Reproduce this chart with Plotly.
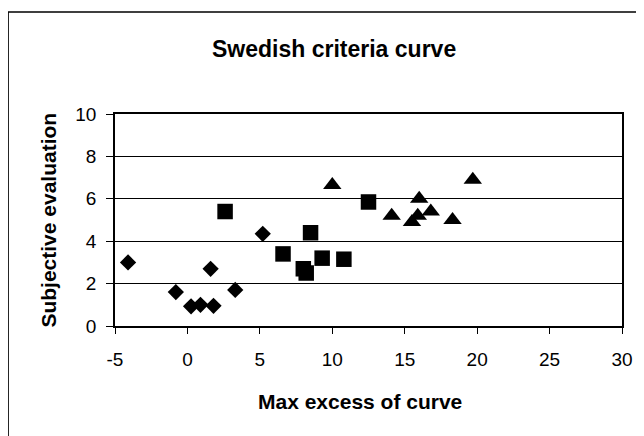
import plotly.graph_objects as go

# Series 1 (diamonds)
diamond_x = [-4.1, -0.8, 0.25, 0.9, 1.8, 1.6, 3.3, 5.2]
diamond_y = [3.0, 1.6, 0.93, 1.0, 0.95, 2.7, 1.7, 4.35]

# Series 2 (squares)
square_x = [2.6, 6.6, 8.0, 8.2, 8.5, 9.3, 10.8, 12.5]
square_y = [5.4, 3.4, 2.7, 2.5, 4.4, 3.2, 3.15, 5.85]

# Series 3 (triangles)
triangle_x = [10.0, 14.1, 15.5, 15.9, 16.0, 16.8, 18.3, 19.7]
triangle_y = [6.65, 5.2, 4.9, 5.2, 6.0, 5.4, 5.0, 6.9]

title_text = "Swedish criteria curve"
x_title = "Max excess of curve"
y_title = "Subjective evaluation"
x_tickvals = [-5, 0, 5, 10, 15, 20, 25, 30]
x_ticklabels = ["-5", "0", "5", "10", "15", "20", "25", "30"]
y_tickvals = [0, 2, 4, 6, 8, 10]
y_ticklabels = ["0", "2", "4", "6", "8", "10"]

FONT = "Arial, 'Liberation Sans', sans-serif"

OFF = 8  # page body offset
W, H = 644 - OFF, 436 - OFF
L, R, T, B = 115 - OFF, 21.5, 114 - OFF, 110
PW = W - L - R
PH = H - T - B

def px_x(p):
    return (p - OFF - L) / PW

def px_y(p):
    return (H - B - (p - OFF)) / PH

fig = go.Figure()
fig.add_trace(go.Scatter(x=diamond_x, y=diamond_y, mode="markers",
                         marker=dict(symbol="diamond", size=12.5, color="black"), name="A"))
fig.add_trace(go.Scatter(x=square_x, y=square_y, mode="markers",
                         marker=dict(symbol="square", size=15.5, color="black"), name="B"))
fig.add_trace(go.Scatter(x=triangle_x, y=triangle_y, mode="markers",
                         marker=dict(symbol="triangle-up", size=16, color="black"), name="C"))

fig.update_layout(
    width=W, height=H,
    margin=dict(l=L, r=R, t=T, b=B, pad=0),
    paper_bgcolor="white", plot_bgcolor="white",
    showlegend=False,
    font=dict(family=FONT, color="black", size=19),
    xaxis=dict(range=[-5, 30], tickvals=x_tickvals, ticktext=x_ticklabels,
               ticks="outside", ticklen=6, ticklabelstandoff=9,
               tickwidth=1, tickcolor="black", showline=True, linecolor="black",
               linewidth=1.5, mirror=True, showgrid=False, zeroline=False,
               tickfont=dict(size=19, family=FONT)),
    yaxis=dict(range=[0, 10], tickvals=y_tickvals, ticktext=y_ticklabels,
               ticks="outside", ticklen=7, ticklabelstandoff=6,
               tickwidth=1, tickcolor="black", showline=True, linecolor="black",
               linewidth=1.5, mirror=True, showgrid=True, gridcolor="black",
               gridwidth=1, zeroline=False, tickfont=dict(size=19, family=FONT)),
)

fig.add_annotation(text="<b>" + title_text + "</b>", xref="paper", yref="paper",
                   x=px_x(334), y=px_y(49.5), xanchor="center", yanchor="middle",
                   showarrow=False, font=dict(size=23, family=FONT, color="black"))
fig.add_annotation(text="<b>" + x_title + "</b>", xref="paper", yref="paper",
                   x=px_x(360), y=px_y(401.5), xanchor="center", yanchor="middle",
                   showarrow=False, font=dict(size=21, family=FONT, color="black"))
fig.add_annotation(text="<b>" + y_title + "</b>", xref="paper", yref="paper",
                   x=px_x(47.5), y=px_y(220), xanchor="center", yanchor="middle",
                   textangle=-90, showarrow=False,
                   font=dict(size=21, family=FONT, color="black"))

fig.add_shape(type="rect", xref="paper", yref="paper",
              x0=px_x(8), x1=px_x(700), y0=px_y(12), y1=px_y(500),
              line=dict(color="black", width=1.5), layer="below")

fig.write_html("out.html")
